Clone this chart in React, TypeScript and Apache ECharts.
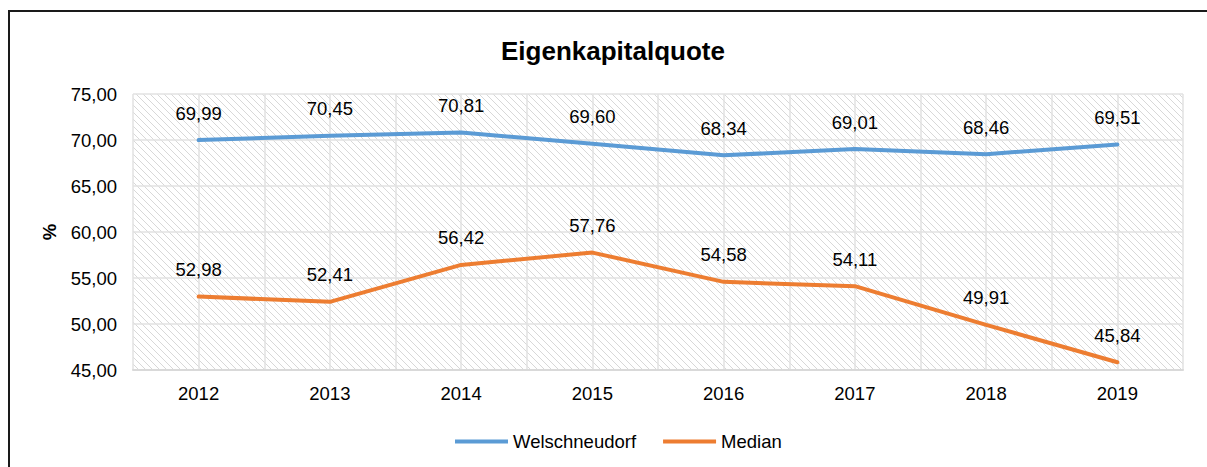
import React, { useEffect, useRef } from "react";
import * as echarts from "echarts";

const categories = ["2012", "2013", "2014", "2015", "2016", "2017", "2018", "2019"];
const welschneudorf = [69.99, 70.45, 70.81, 69.6, 68.34, 69.01, 68.46, 69.51];
const median = [52.98, 52.41, 56.42, 57.76, 54.58, 54.11, 49.91, 45.84];
const seriesNames = ["Welschneudorf", "Median"];
const titleText = "Eigenkapitalquote";
const yName = "%";

const fmt = (v: number) => v.toFixed(2).replace(".", ",");
const FONT = "'Liberation Sans', Arial, sans-serif";

const hatchSvg =
  "data:image/svg+xml;charset=utf-8," +
  encodeURIComponent(
    "<svg xmlns='http://www.w3.org/2000/svg' width='7' height='7'>" +
      "<rect width='7' height='7' fill='white'/>" +
      "<path d='M-1,-1 L8,8 M-1,6 L1,8 M6,-1 L8,1' stroke='#d8d8d8' stroke-width='1'/>" +
      "</svg>"
  );

const labelCfg = {
  show: true,
  position: "top",
  distance: 17,
  color: "#000",
  fontSize: 18.5,
  fontFamily: FONT,
  lineHeight: 20,
  formatter: (p: any) => fmt(p.value),
};

export default function App() {
  const ref = useRef<HTMLDivElement>(null);
  useEffect(() => {
    if (!ref.current) return;
    const chart = echarts.init(ref.current, undefined, { renderer: "svg" });
    const img = new Image();
    img.src = hatchSvg;
    const build = () => {
      chart.setOption({
        animation: false,
        backgroundColor: "transparent",
        textStyle: { fontFamily: FONT },
        title: {
          text: titleText,
          left: 496,
          top: 33,
          textStyle: { fontFamily: FONT, fontSize: 26, fontWeight: "bold", color: "#000" },
        },
        legend: {
          left: 450,
          top: 427,
          icon: "rect",
          itemWidth: 53,
          itemHeight: 4,
          itemGap: 27,
          textStyle: { fontFamily: FONT, fontSize: 18.5, color: "#000" },
          data: seriesNames,
        },
        grid: {
          left: 133,
          right: 24,
          top: 94,
          bottom: 97,
          show: true,
          borderWidth: 0,
          backgroundColor: { image: img, repeat: "repeat" },
        },
        xAxis: [
          {
            type: "category",
            data: categories,
            boundaryGap: true,
            axisLine: { show: true, lineStyle: { color: "#d9d9d9", width: 2 } },
            axisTick: { show: false },
            splitLine: { show: false },
            axisLabel: { color: "#000", fontSize: 18.5, fontFamily: FONT, margin: 14 },
          },
          {
            type: "value",
            min: 0,
            max: 16,
            interval: 1,
            position: "top",
            axisLine: { show: false },
            axisTick: { show: false },
            axisLabel: { show: false },
            splitLine: { show: true, lineStyle: { color: "#e2e2e2", width: 1.5 } },
          },
        ],
        yAxis: {
          type: "value",
          min: 45,
          max: 75,
          interval: 5,
          name: yName,
          nameLocation: "middle",
          nameRotate: 90,
          nameGap: 74,
          nameTextStyle: { fontFamily: FONT, fontSize: 18.5, fontWeight: "bold", color: "#000" },
          axisLine: { show: false },
          axisTick: { show: false },
          axisLabel: { color: "#000", fontSize: 18.5, fontFamily: FONT, margin: 16, formatter: (v: number) => fmt(v) },
          splitLine: { show: true, lineStyle: { color: "#e2e2e2", width: 1.5 } },
        },
        series: [
          {
            name: seriesNames[0],
            type: "line",
            data: welschneudorf,
            xAxisIndex: 0,
            showSymbol: true,
            symbol: "circle",
            symbolSize: 0.01,
            lineStyle: { color: "#5B9BD5", width: 4, cap: "round" },
            itemStyle: { color: "#5B9BD5" },
            label: labelCfg,
          },
          {
            name: seriesNames[1],
            type: "line",
            data: median,
            xAxisIndex: 0,
            showSymbol: true,
            symbol: "circle",
            symbolSize: 0.01,
            lineStyle: { color: "#ED7D31", width: 4, cap: "round" },
            itemStyle: { color: "#ED7D31" },
            label: labelCfg,
          },
        ],
      });
    };
    build();
    if (!img.complete) {
      img.onload = build;
    }
    return () => chart.dispose();
  }, []);
  return (
    <div
      style={{
        position: "fixed",
        left: 0,
        top: 0,
        width: 1207,
        height: 467,
        overflow: "hidden",
        background: "#fff",
      }}
    >
      <div
        style={{
          position: "absolute",
          left: 8,
          top: 10,
          width: 1400,
          height: 700,
          borderLeft: "2px solid #1a1a1a",
          borderTop: "2px solid #1a1a1a",
        }}
      />
      <div
        ref={ref}
        style={{ position: "absolute", left: 0, top: 0, width: 1207, height: 467 }}
      />
    </div>
  );
}
